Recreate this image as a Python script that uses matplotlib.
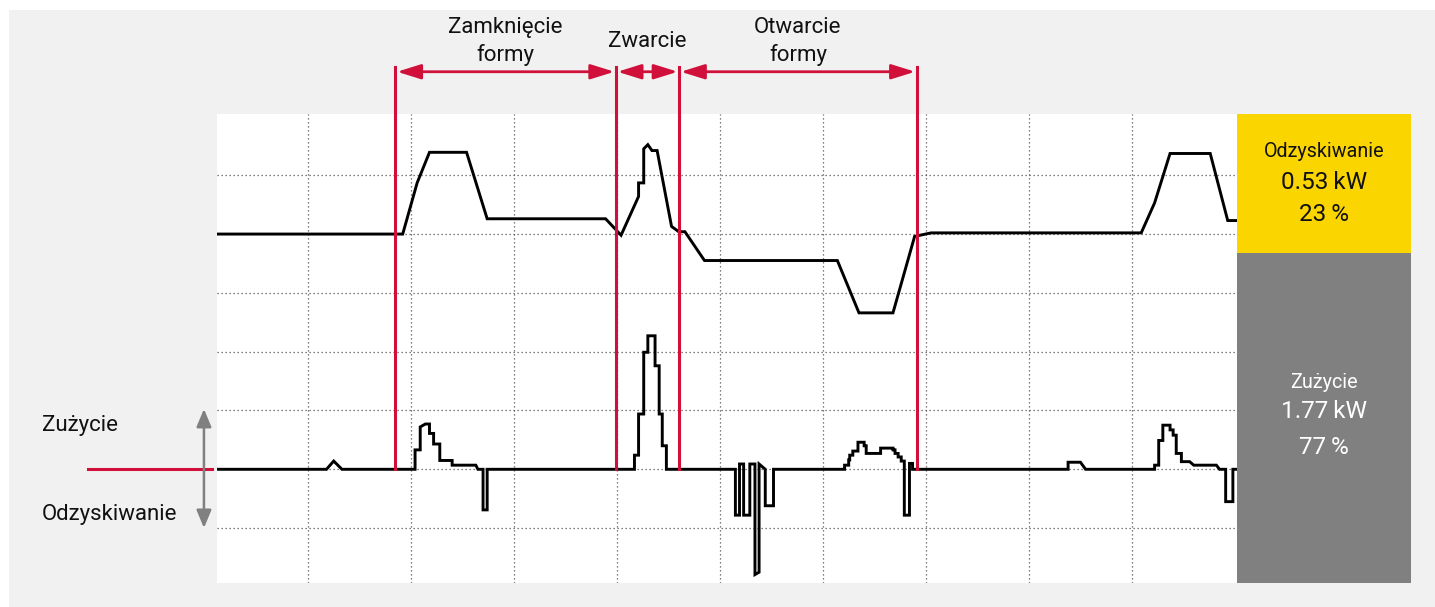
import matplotlib
matplotlib.use("Agg")
import matplotlib.pyplot as plt
from matplotlib.patches import Rectangle, FancyArrowPatch, ArrowStyle

plt.rcParams['font.family'] = ['Roboto', 'DejaVu Sans']

# ---------------- data (time in grid units, power in grid units) ----------------
# upper curve: mould / machine movement profile
upper_t = [0.10, 1.92, 2.06, 2.18, 2.54, 2.74, 3.89, 4.04, 4.21, 4.21, 4.26, 4.26,
           4.30, 4.34, 4.39, 4.53, 4.60, 4.66, 4.85, 6.14, 6.35, 6.68, 6.89, 7.05,
           9.09, 9.22, 9.37, 9.76, 9.93, 10.05]
upper_v = [4.00, 4.00, 4.87, 5.39, 5.39, 4.26, 4.26, 3.98, 4.64, 4.87, 4.87, 5.45,
           5.52, 5.42, 5.42, 4.13, 4.04, 4.04, 3.55, 3.55, 2.66, 2.66, 3.96, 4.02,
           4.02, 4.53, 5.37, 5.37, 4.23, 4.23]

# lower curve: electrical power (consumption > 0, recovery < 0)
power_t = [0.10, 1.18, 1.25, 1.33, 2.04, 2.04, 2.09, 2.09, 2.14, 2.18, 2.18, 2.22,
           2.22, 2.28, 2.28, 2.40, 2.40, 2.63, 2.65, 2.70, 2.70, 2.74, 2.74,
           4.17, 4.17, 4.21, 4.21, 4.26, 4.26, 4.30, 4.30, 4.37, 4.37, 4.41, 4.41,
           4.44, 4.44, 4.48, 4.48,
           5.15, 5.15, 5.19, 5.19, 5.23, 5.23, 5.29, 5.29, 5.34, 5.34, 5.38, 5.38,
           5.44, 5.44, 5.52, 5.52,
           6.21, 6.21, 6.25, 6.25, 6.26, 6.26, 6.29, 6.29, 6.34, 6.34, 6.40, 6.40,
           6.42, 6.42, 6.56, 6.56, 6.68, 6.68, 6.70, 6.70, 6.73, 6.73, 6.76, 6.76,
           6.79, 6.79, 6.84, 6.84, 6.87, 6.87,
           8.38, 8.38, 8.50, 8.55,
           9.22, 9.22, 9.26, 9.26, 9.30, 9.30, 9.37, 9.37, 9.40, 9.40, 9.43, 9.43,
           9.48, 9.48, 9.56, 9.60, 9.82, 9.85, 9.91, 9.91, 9.98, 9.98, 10.05]
power_v = [0.00, 0.00, 0.14, 0.00, 0.00, 0.33, 0.33, 0.72, 0.77, 0.77, 0.61, 0.61,
           0.43, 0.43, 0.15, 0.15, 0.07, 0.07, 0.00, 0.00, -0.69, -0.69, 0.00,
           0.00, 0.24, 0.24, 0.94, 0.94, 1.99, 1.99, 2.27, 2.27, 1.76, 1.76, 0.94,
           0.94, 0.40, 0.40, 0.00,
           0.00, -0.78, -0.78, 0.09, 0.09, -0.78, -0.78, 0.09, 0.09, -1.79, -1.75, 0.09,
           0.00, -0.62, -0.62, 0.00,
           0.00, 0.07, 0.07, 0.16, 0.16, 0.24, 0.24, 0.31, 0.31, 0.46, 0.46, 0.40,
           0.40, 0.27, 0.27, 0.36, 0.36, 0.33, 0.33, 0.27, 0.27, 0.21, 0.21, 0.14,
           0.14, -0.78, -0.78, 0.10, 0.10, 0.00,
           0.00, 0.12, 0.12, 0.00,
           0.00, 0.07, 0.07, 0.49, 0.49, 0.75, 0.75, 0.67, 0.67, 0.58, 0.58, 0.27,
           0.27, 0.13, 0.13, 0.07, 0.07, 0.00, 0.00, -0.55, -0.55, 0.00, 0.00]

# phase boundaries and labels
phase_bounds = [1.85, 3.99, 4.605, 6.91]
phase_labels = ["Zamknięcie\nformy", "Zwarcie", "Otwarcie\nformy"]

# summary box
summary_labels = ["Odzyskiwanie", "Zużycie"]
summary_kw = [0.53, 1.77]
summary_pct = [23, 77]

# side labels
side_labels = ["Zużycie", "Odzyskiwanie"]

# ---------------- styling ----------------
RED = '#d0103a'
YELLOW = '#fbd500'
GREY = '#808080'
BG = '#f1f1f1'
W, H = 1435, 607

fig = plt.figure(figsize=(W / 100, H / 100), dpi=100, facecolor='white')
fig.add_artist(Rectangle((9 / W, 0), 1, 1 - 10 / H, transform=fig.transFigure,
                         facecolor=BG, edgecolor='none', zorder=0))

L, R, T, B = 217, 1237, 113.5, 582.5
ax = fig.add_axes([L / W, 1 - B / H, (R - L) / W, (B - T) / H])
ax.set_facecolor('white')
ax.set_xlim(0.117, 10.02)
ax.set_ylim(-1.925, 6.05)
for s in ax.spines.values():
    s.set_visible(False)
ax.set_xticks([])
ax.set_yticks([])

grid_kw = dict(color='#555555', lw=0.9, ls=(0, (1, 2.2)), zorder=1)
for gx in range(1, 10):
    ax.axvline(gx, **grid_kw)
for gy in range(-1, 6):
    ax.axhline(gy, **grid_kw)

ax.plot(upper_t, upper_v, color='black', lw=2.1, zorder=4, solid_joinstyle='miter')
ax.plot(power_t, power_v, color='black', lw=2.1, zorder=4, solid_joinstyle='miter')

# phase lines, arrows, labels
y_line_top, y_arrow, y_text = 6.84, 6.76, 7.27
for xb in phase_bounds:
    ax.plot([xb, xb], [0, y_line_top], color=RED, lw=2.2, zorder=5, clip_on=False)
astyle = ArrowStyle('<|-|>', head_length=0.8, head_width=0.25)
for i, lab in enumerate(phase_labels):
    x0, x1 = phase_bounds[i], phase_bounds[i + 1]
    arr = FancyArrowPatch((x0 + 0.015, y_arrow), (x1 - 0.015, y_arrow), arrowstyle=astyle,
                          mutation_scale=18, color=RED, lw=2.0, shrinkA=0, shrinkB=0,
                          clip_on=False, zorder=6)
    ax.add_patch(arr)
    ax.text((x0 + x1) / 2, y_text, lab, ha='center', va='center', fontsize=16,
            linespacing=1.38, color='#111111', clip_on=False)

# left legend
ax.plot([-1.136, 0.068], [0, 0], color=RED, lw=2.2, clip_on=False, zorder=5)
garr = FancyArrowPatch((-0.0097, -0.998), (-0.0097, 1.026),
                       arrowstyle=ArrowStyle('<|-|>', head_length=0.6, head_width=0.25),
                       mutation_scale=18, color=GREY, lw=1.8, shrinkA=0, shrinkB=0,
                       clip_on=False, zorder=6)
ax.add_patch(garr)
ax.text(-1.583, 0.753, side_labels[0], ha='left', va='center', fontsize=16,
        color='#111111', clip_on=False)
ax.text(-1.583, -0.777, side_labels[1], ha='left', va='center', fontsize=16,
        color='#111111', clip_on=False)

# summary boxes (right)
BX0, BX1, BSPLIT = 1237, 1411, 253
fig.add_artist(Rectangle((BX0 / W, 1 - BSPLIT / H), (BX1 - BX0) / W, (BSPLIT - T) / H,
                         transform=fig.transFigure, facecolor=YELLOW, edgecolor='none', zorder=2))
fig.add_artist(Rectangle((BX0 / W, 1 - B / H), (BX1 - BX0) / W, (B - BSPLIT) / H,
                         transform=fig.transFigure, facecolor=GREY, edgecolor='none', zorder=2))
cx = (BX0 + BX1) / 2 / W
rows = [(152, 183, 215, '#111111'), (382, 412, 448, 'white')]
for (y1, y2, y3, col), lab, kw, pct in zip(rows, summary_labels, summary_kw, summary_pct):
    fig.text(cx, 1 - y1 / H, lab, ha='center', va='center', fontsize=14.2, color=col, zorder=3)
    fig.text(cx, 1 - y2 / H, f"{kw:.2f}\u2009kW", ha='center', va='center', fontsize=17.5,
             color=col, zorder=3)
    fig.text(cx, 1 - y3 / H, f"{pct}\u2009%", ha='center', va='center', fontsize=17.5,
             color=col, zorder=3)

fig.savefig('out.png', dpi=100, facecolor=fig.get_facecolor())
